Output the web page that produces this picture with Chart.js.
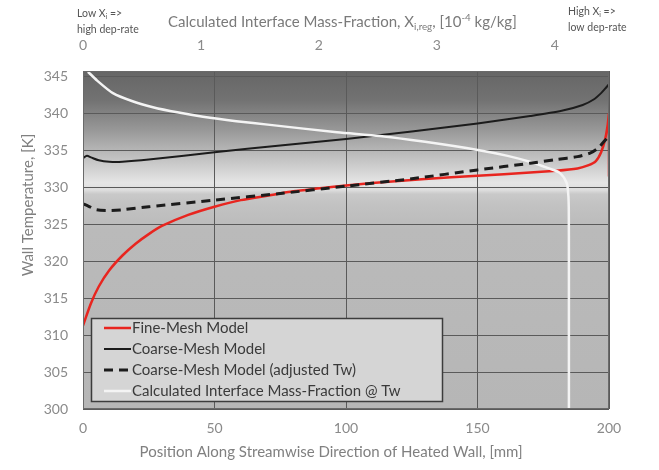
<!DOCTYPE html>
<html>
<head>
<meta charset="utf-8">
<script src="https://cdn.jsdelivr.net/npm/chart.js@4"></script>
<style>
  body { margin: 0; background: #fff; }
</style>
</head>
<body>
<canvas id="wall-chart" width="659" height="470"></canvas>
<script>
// position along wall [mm] and wall temperature [K]
const fineX = [0, 3, 6, 10, 15, 20, 25, 30, 40, 50, 60, 70, 80, 90, 100, 120, 140, 160, 180, 188, 192, 195, 197, 198.5, 199.5, 200, 200];
const fineT = [311.3, 314.3, 316.6, 318.8, 320.8, 322.4, 323.7, 324.8, 326.3, 327.4, 328.3, 328.9, 329.5, 329.9, 330.3, 330.9, 331.4, 331.8, 332.3, 332.6, 333.0, 333.6, 334.8, 336.5, 338.5, 340.0, 331.5];

const coarseX = [0, 1.5, 3, 6, 10, 15, 25, 50, 75, 100, 125, 150, 170, 182, 190, 194, 197, 199, 200];
const coarseT = [334.0, 334.3, 334.1, 333.7, 333.5, 333.5, 333.8, 334.8, 335.7, 336.6, 337.6, 338.7, 339.7, 340.4, 341.2, 341.9, 342.8, 343.6, 344.0];

const adjX = [0, 2, 5, 10, 15, 25, 50, 75, 100, 125, 150, 170, 180, 188, 193, 196, 198, 200];
const adjT = [327.8, 327.5, 327.0, 326.9, 327.0, 327.4, 328.3, 329.2, 330.2, 331.2, 332.4, 333.3, 333.8, 334.2, 334.7, 335.4, 336.2, 337.0];

// interface mass-fraction [1e-4 kg/kg] (top axis) against wall temperature
const massFrac = [0.042, 0.12, 0.254, 0.42, 0.593, 0.8, 1.017, 1.3, 1.585, 2.153, 2.517, 2.9, 3.347, 3.6, 3.788, 3.95, 4.042, 4.102, 4.115, 4.119, 4.12, 4.12];
const massFracT = [345.7, 344.5, 342.8, 341.7, 340.9, 340.2, 339.6, 339.0, 338.5, 337.5, 337.0, 336.2, 335.1, 334.3, 333.5, 332.6, 332.0, 330.6, 329.0, 327.0, 320.0, 300.0];

const seriesNames = [
  "Fine-Mesh Model",
  "Coarse-Mesh Model",
  "Coarse-Mesh Model (adjusted Tw)",
  "Calculated Interface Mass-Fraction @ Tw",
];

// tick values shown on the axes
const tempTicks = [300, 305, 310, 315, 320, 325, 330, 335, 340, 345];
const fracTicks = [0, 1, 2, 3, 4];

const toPoints = (xs, ys) => xs.map((x, i) => ({ x: x, y: ys[i] }));

const FONT = "Lato";
const gridColor = "#5a5a5a";
const tickColor = "#8a8a8a";

// text with sub/superscript parts, drawn straight to canvas
const drawRich = (ctx, parts, x, y, size, color) => {
  ctx.fillStyle = color;
  ctx.textBaseline = "alphabetic";
  ctx.textAlign = "left";
  let cx = x;
  parts.forEach((p) => {
    let s = size, dy = 0;
    if (p.sub) { s = size * 0.65; dy = size * 0.22; }
    if (p.sup) { s = size * 0.65; dy = -size * 0.4; }
    ctx.font = s + "px " + FONT;
    ctx.fillText(p.t, cx, y + dy);
    cx += ctx.measureText(p.t).width;
  });
};

const decor = {
  id: "decor",
  beforeDraw(chart) {
    const { ctx, chartArea: a } = chart;
    const g = ctx.createLinearGradient(0, a.top, 0, a.bottom);
    g.addColorStop(0, "#666666");
    g.addColorStop(0.086, "#727272");
    g.addColorStop(0.175, "#989898");
    g.addColorStop(0.263, "#c4c4c4");
    g.addColorStop(0.331, "#e6e6e6");
    g.addColorStop(0.352, "#dedede");
    g.addColorStop(0.364, "#c9c9c9");
    g.addColorStop(0.396, "#c2c2c2");
    g.addColorStop(0.47, "#bababa");
    g.addColorStop(1, "#b6b6b6");
    ctx.save();
    ctx.fillStyle = g;
    ctx.fillRect(a.left, a.top, a.right - a.left, a.bottom - a.top);
    ctx.restore();
  },
  afterDraw(chart) {
    const { ctx, chartArea: a } = chart;
    ctx.save();
    // plot frame
    ctx.strokeStyle = "#6a6a6a";
    ctx.lineWidth = 1;
    ctx.strokeRect(a.left + 0.5, a.top + 0.5, a.right - a.left - 1, a.bottom - a.top - 1);

    // legend box
    ctx.fillStyle = "#d5d5d5";
    ctx.fillRect(91.5, 318.5, 351, 83);
    ctx.strokeStyle = "#3c3c3c";
    ctx.lineWidth = 1.5;
    ctx.strokeRect(91.5, 318.5, 351, 83);
    chart.data.datasets.forEach((ds, i) => {
      const y = 328 + i * 21;
      ctx.beginPath();
      ctx.strokeStyle = ds.borderColor;
      ctx.lineWidth = ds.borderWidth;
      ctx.setLineDash(ds.borderDash || []);
      ctx.moveTo(104, y);
      ctx.lineTo(131, y);
      ctx.stroke();
      ctx.setLineDash([]);
      ctx.fillStyle = "#3a3a3a";
      ctx.font = "15px " + FONT;
      ctx.textBaseline = "middle";
      ctx.textAlign = "left";
      ctx.fillText(ds.label, 132, y);
    });

    // axis titles
    ctx.fillStyle = "#808080";
    ctx.font = "15px " + FONT;
    ctx.textAlign = "center";
    ctx.textBaseline = "middle";
    ctx.fillText("Position Along Streamwise Direction of Heated Wall, [mm]", 331, 452);
    ctx.save();
    ctx.translate(28, 205);
    ctx.rotate(-Math.PI / 2);
    ctx.fillText("Wall Temperature, [K]", 0, 0);
    ctx.restore();

    drawRich(ctx, [
      { t: "Calculated Interface Mass-Fraction, X" },
      { t: "i,reg", sub: true },
      { t: ", [10" },
      { t: "-4", sup: true },
      { t: " kg/kg]" },
    ], 168, 27, 15, "#7a7a7a");

    drawRich(ctx, [{ t: "Low X" }, { t: "i", sub: true }, { t: " =>" }], 77, 17, 10.5, "#555555");
    drawRich(ctx, [{ t: "high dep-rate" }], 77, 33, 10.5, "#555555");
    drawRich(ctx, [{ t: "High X" }, { t: "i", sub: true }, { t: " =>" }], 568, 15, 10.5, "#555555");
    drawRich(ctx, [{ t: "low dep-rate" }], 568, 31, 10.5, "#555555");
    ctx.restore();
  },
};

const canvas = document.querySelector("#wall-chart");
const ctx = canvas.getContext("2d");

const fixedTicks = (values) => (scale) => {
  scale.ticks = values.map((v) => ({ value: v }));
};

new Chart(ctx, {
  type: "scatter",
  data: {
    datasets: [
      {
        label: seriesNames[0],
        data: toPoints(fineX, fineT),
        borderColor: "#e8251f",
        borderWidth: 2.5,
        order: 3,
      },
      {
        label: seriesNames[1],
        data: toPoints(coarseX, coarseT),
        borderColor: "#1c1c1c",
        borderWidth: 2,
        order: 2,
      },
      {
        label: seriesNames[2],
        data: toPoints(adjX, adjT),
        borderColor: "#1c1c1c",
        borderWidth: 3,
        borderDash: [9, 6],
        order: 0,
      },
      {
        label: seriesNames[3],
        data: toPoints(massFrac, massFracT),
        borderColor: "#f4f4f4",
        borderWidth: 2.5,
        xAxisID: "x2",
        order: 1,
      },
    ],
  },
  options: {
    responsive: false,
    animation: false,
    devicePixelRatio: 1,
    showLine: true,
    elements: {
      point: { radius: 0, hoverRadius: 0 },
      line: { tension: 0.25, fill: false },
    },
    layout: { padding: { left: 0, right: 50, top: 0, bottom: 0 } },
    plugins: {
      legend: { display: false },
      tooltip: { enabled: false },
    },
    scales: {
      x: {
        type: "linear",
        position: "bottom",
        min: 0,
        max: 200,
        ticks: { stepSize: 50, color: tickColor, font: { family: FONT, size: 14 }, padding: 11, maxRotation: 0 },
        grid: { color: gridColor, drawTicks: false },
        border: { display: false },
        afterFit: (s) => { s.height = 61; },
      },
      x2: {
        type: "linear",
        position: "top",
        min: 0,
        max: 4.46,
        ticks: { color: tickColor, font: { family: FONT, size: 14 }, padding: 17, maxRotation: 0 },
        grid: { display: false, drawTicks: false },
        border: { display: false },
        afterBuildTicks: fixedTicks(fracTicks),
        afterFit: (s) => { s.height = 71; },
      },
      y: {
        type: "linear",
        min: 300,
        max: 345.8,
        ticks: { color: tickColor, font: { family: FONT, size: 14 }, padding: 15 },
        grid: { color: gridColor, drawTicks: false },
        border: { display: false },
        afterBuildTicks: fixedTicks(tempTicks),
        afterFit: (s) => { s.width = 83; },
      },
    },
  },
  plugins: [decor],
});
</script>
</body>
</html>
